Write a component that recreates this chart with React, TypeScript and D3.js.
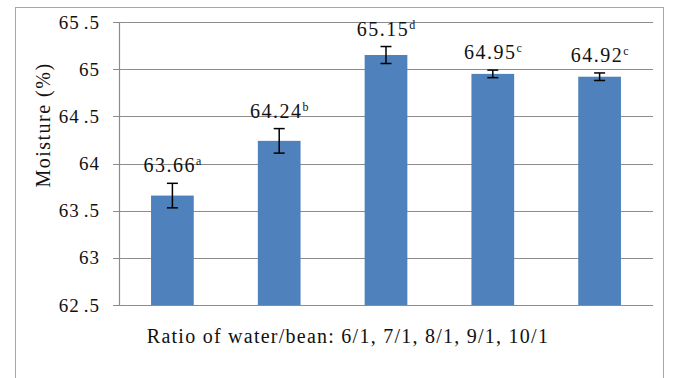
import React from "react";
import * as d3 from "d3";

// Moisture content by water/bean ratio
const ratios = ["6/1", "7/1", "8/1", "9/1", "10/1"];
const moisture = [63.66, 64.24, 65.15, 64.95, 64.92];
const errors = [0.13, 0.13, 0.09, 0.04, 0.04];
const letters = ["a", "b", "d", "c", "c"];
const yTicks = [62.5, 63, 63.5, 64, 64.5, 65, 65.5];

const W = 674;
const H = 378;
const margin = { left: 119, right: 21, top: 22, bottom: 73 };
const serif = "'Liberation Serif', 'DejaVu Serif', serif";
const txt: React.CSSProperties = { fontFamily: serif };

export default function App() {
  const x = d3
    .scaleBand<string>()
    .domain(ratios)
    .range([margin.left, W - margin.right])
    .paddingInner(0.6)
    .paddingOuter(0.3);
  const y = d3
    .scaleLinear()
    .domain([62.5, 65.5])
    .range([H - margin.bottom, margin.top]);

  const x0 = margin.left;
  const x1 = W - margin.right;
  const grid = "#8c8c8c";

  const tickText = (v: number) => {
    const s = v % 1 === 0 ? String(v) : v.toFixed(1);
    const [a, b] = s.split(".");
    return b ? (
      <>
        {a}
        <tspan dx={4}>.{b}</tspan>
      </>
    ) : (
      a
    );
  };

  return (
    <svg
      width={W}
      height={H}
      style={{ position: "absolute", left: 0, top: 0, background: "#fff" }}
    >
      {/* chart frame */}
      <rect x={15.5} y={7.5} width={648} height={380} fill="none" stroke="#a6a6a6" strokeWidth={1} />

      {/* gridlines and ticks */}
      {yTicks.map((t) => (
        <g key={t}>
          <line x1={x0 - 6} x2={x1} y1={Math.round(y(t)) + 0.5} y2={Math.round(y(t)) + 0.5} stroke={grid} strokeWidth={1.2} />
          <text x={100} y={y(t) + 6.5} textAnchor="end" fontSize={19} fill="#111" style={{ ...txt, letterSpacing: "1px" }}>
            {tickText(t)}
          </text>
        </g>
      ))}
      <line x1={x0 + 0.5} x2={x0 + 0.5} y1={y(65.5)} y2={y(62.5)} stroke={grid} strokeWidth={1.2} />

      {/* bars */}
      {ratios.map((r, i) => (
        <rect
          key={r}
          x={x(r)!}
          y={y(moisture[i])}
          width={x.bandwidth()}
          height={y(62.5) - y(moisture[i])}
          fill="#4F81BD"
        />
      ))}

      {/* error bars */}
      {ratios.map((r, i) => {
        const cx = x(r)! + x.bandwidth() / 2;
        const top = y(moisture[i] + errors[i]);
        const bot = y(moisture[i] - errors[i]);
        return (
          <g key={r} stroke="#000" strokeWidth={1.5}>
            <line x1={cx} x2={cx} y1={top} y2={bot} />
            <line x1={cx - 5.5} x2={cx + 5.5} y1={top} y2={top} />
            <line x1={cx - 5.5} x2={cx + 5.5} y1={bot} y2={bot} />
          </g>
        );
      })}

      {/* value labels with significance letters */}
      {ratios.map((r, i) => {
        const cx = x(r)! + x.bandwidth() / 2;
        const top = y(moisture[i] + errors[i]);
        return (
          <text key={r} x={cx} y={top - 11} textAnchor="middle" fontSize={20} fill="#111" style={{ ...txt, letterSpacing: "1.5px" }}>
            {moisture[i].toFixed(2)}
            <tspan fontSize={12} dy={-7} style={{ letterSpacing: "0px" }}>
              {letters[i]}
            </tspan>
          </text>
        );
      })}

      {/* axis titles */}
      <text x={348} y={343} textAnchor="middle" fontSize={20} fill="#111" style={{ ...txt, letterSpacing: "1.25px" }}>
        {`Ratio of water/bean: ${ratios.join(", ")}`}
      </text>
      <text
        transform="translate(50,125) rotate(-90)"
        textAnchor="middle"
        fontSize={20}
        fill="#111"
        style={{ ...txt, letterSpacing: "1.5px" }}
      >
        Moisture (%)
      </text>
    </svg>
  );
}
